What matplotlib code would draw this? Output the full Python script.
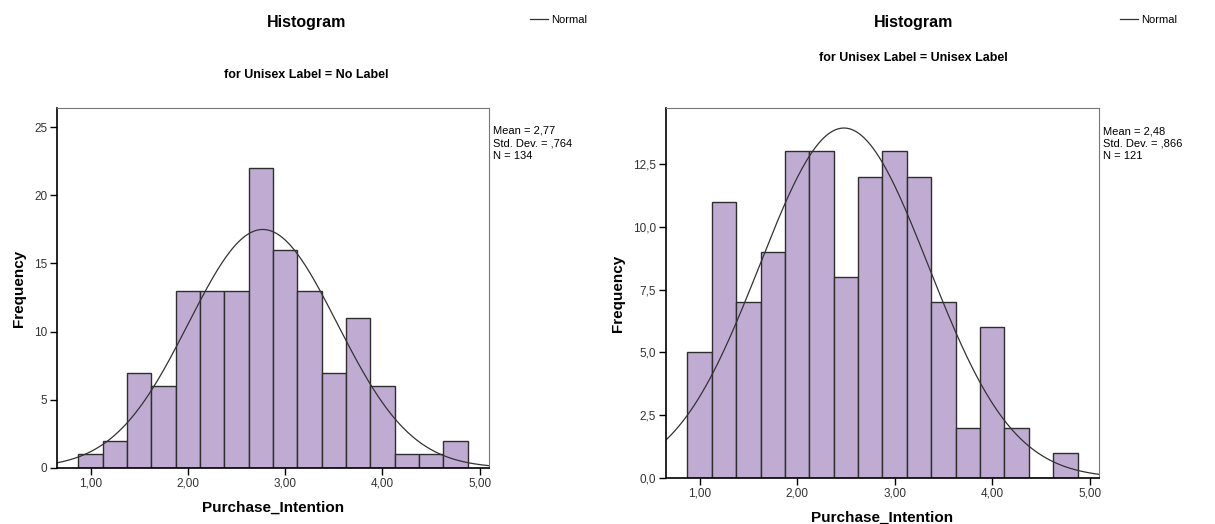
import numpy as np
import matplotlib
matplotlib.use("Agg")
import matplotlib.pyplot as plt
from matplotlib.lines import Line2D

plt.rcParams["font.family"] = ["Liberation Sans", "DejaVu Sans"]

# bin centres (width 0.25) shared by both panels
bin_centres = [1.00, 1.25, 1.50, 1.75, 2.00, 2.25, 2.50, 2.75,
               3.00, 3.25, 3.50, 3.75, 4.00, 4.25, 4.50, 4.75]
bin_width = 0.25

counts_no_label = [1, 2, 7, 6, 13, 13, 13, 22, 16, 13, 7, 11, 6, 1, 1, 2]
counts_unisex = [5, 11, 7, 9, 13, 13, 8, 12, 13, 12, 7, 2, 6, 2, 0, 1]

panels = [
    {"counts": counts_no_label, "mean": 2.77, "sd": 0.764, "n": 134,
     "subtitle": "for Unisex Label = No Label",
     "stats": "Mean = 2,77\nStd. Dev. = ,764\nN = 134",
     "yticks": [0, 5, 10, 15, 20, 25],
     "yticklabels": ["0", "5", "10", "15", "20", "25"],
     "ymax": 26.4,
     "rect": [0.0469, 0.1069, 0.3556, 0.687]},
    {"counts": counts_unisex, "mean": 2.48, "sd": 0.866, "n": 121,
     "subtitle": "for Unisex Label = Unisex Label",
     "stats": "Mean = 2,48\nStd. Dev. = ,866\nN = 121",
     "yticks": [0, 2.5, 5, 7.5, 10, 12.5],
     "yticklabels": ["0,0", "2,5", "5,0", "7,5", "10,0", "12,5"],
     "ymax": 14.73,
     "rect": [0.5481, 0.0878, 0.3564, 0.706]},
]

xticks = [1, 2, 3, 4, 5]
xticklabels = ["1,00", "2,00", "3,00", "4,00", "5,00"]
bar_color = "#c0acd3"

fig = plt.figure(figsize=(12.15, 5.24), dpi=100)

for i, p in enumerate(panels):
    ax = fig.add_axes(p["rect"])
    ax.bar(bin_centres, p["counts"], width=bin_width, color=bar_color,
           edgecolor="#2e2e2e", linewidth=1.0)
    xs = np.linspace(0.655, 5.095, 300)
    pdf = np.exp(-0.5 * ((xs - p["mean"]) / p["sd"]) ** 2) / (p["sd"] * np.sqrt(2 * np.pi))
    ax.plot(xs, p["n"] * bin_width * pdf, color="#333333", linewidth=0.9)
    ax.set_xlim(0.655, 5.095)
    ax.set_ylim(0, p["ymax"])
    ax.set_xticks(xticks)
    ax.set_xticklabels(xticklabels)
    ax.set_yticks(p["yticks"])
    ax.set_yticklabels(p["yticklabels"])
    ax.tick_params(direction="out", length=5, width=1, labelsize=8.5,
                   labelcolor="#333333", pad=2)
    for side in ["top", "right"]:
        ax.spines[side].set_color("#777777")
    for side in ["left", "bottom"]:
        ax.spines[side].set_linewidth(1.2)
    ax.set_xlabel("Purchase_Intention", fontsize=11, fontweight="bold", labelpad=8)
    ax.set_ylabel("Frequency", fontsize=11, fontweight="bold", labelpad=6)
    ax.text(1.01, 0.95, p["stats"], transform=ax.transAxes, fontsize=8,
            va="top", ha="left", linespacing=1.3)

    cx = 0.252 + 0.5 * i
    fig.text(cx, 0.958, "Histogram", ha="center", va="center",
             fontsize=11.5, fontweight="bold")
    fig.text(cx, 0.857 if i == 0 else 0.889, p["subtitle"], ha="center",
             va="center", fontsize=9, fontweight="bold")
    fig.legend(handles=[Line2D([0], [0], color="#333333", linewidth=0.9)],
               labels=["Normal"], loc="center left",
               bbox_to_anchor=(0.436 + 0.486 * i, 0.962), frameon=False,
               fontsize=8, handlelength=1.6, handletextpad=0.3,
               borderpad=0, borderaxespad=0)

fig.savefig("out.png", dpi=100)
